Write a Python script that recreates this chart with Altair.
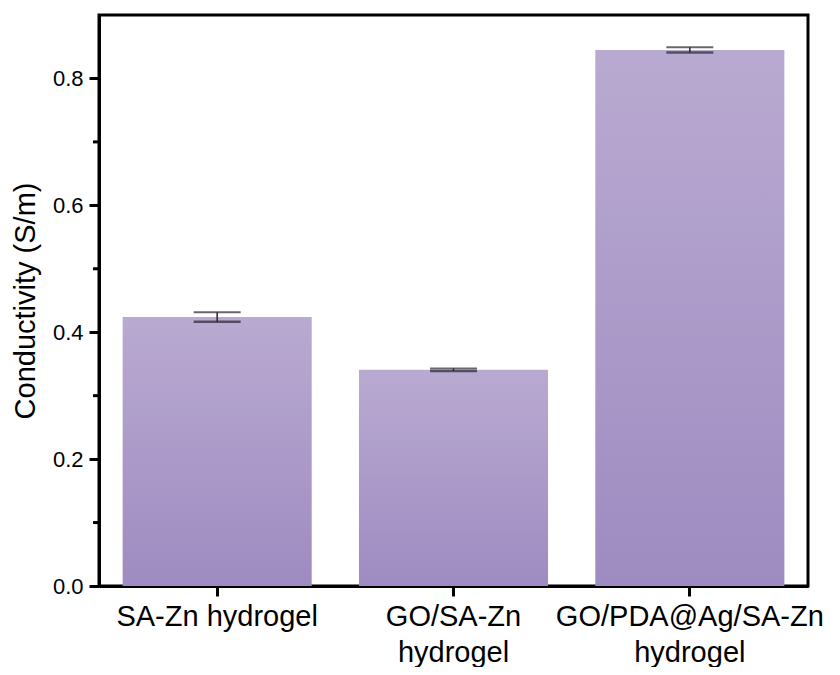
import altair as alt
import pandas as pd

categories = ["SA-Zn hydrogel", "GO/SA-Zn\nhydrogel", "GO/PDA@Ag/SA-Zn\nhydrogel"]
conductivity = [0.424, 0.341, 0.845]
errors = [0.0075, 0.002, 0.004]
y_major = [0.0, 0.2, 0.4, 0.6, 0.8]
y_minor = [0.1, 0.3, 0.5, 0.7]

df = pd.DataFrame({
    "cat": categories,
    "val": conductivity,
    "lo": [v - e for v, e in zip(conductivity, errors)],
    "hi": [v + e for v, e in zip(conductivity, errors)],
})
minor_df = pd.DataFrame({"m": y_minor})

FONT = "Liberation Sans"

x_enc = alt.X(
    "cat:N", sort=categories, title=None,
    scale=alt.Scale(paddingInner=0.2, paddingOuter=0.1),
    axis=alt.Axis(
        labelExpr="split(datum.value, '\\n')", labelAngle=0, labelLimit=0,
        labelFont=FONT, labelFontSize=29, labelColor="black",
        labelLineHeight=36, labelPadding=6,
        tickSize=10, tickWidth=3, tickColor="black",
        domainColor="black", domainWidth=3,
    ),
)
y_scale = alt.Scale(domain=[0, 0.9], nice=False, zero=True)

bars = alt.Chart(df).mark_bar(
    color=alt.Gradient(
        gradient="linear",
        stops=[alt.GradientStop(color="#b9aad1", offset=0),
               alt.GradientStop(color="#9e8bc1", offset=1)],
        x1=0, x2=0, y1=0, y2=1,
    )
).encode(
    x=x_enc,
    y=alt.Y(
        "val:Q", scale=y_scale, title="Conductivity (S/m)",
        axis=alt.Axis(
            values=y_major, format=".1f", grid=False,
            labelFont=FONT, labelFontSize=22, labelColor="black", labelPadding=6,
            tickSize=10, tickWidth=3, tickColor="black",
            domainColor="black", domainWidth=3,
            titleFont=FONT, titleFontSize=29, titleFontWeight="normal",
            titleColor="black", titlePadding=12,
        ),
    ),
)

err_rule = alt.Chart(df).mark_rule(color="#2b2733", strokeWidth=1.5).encode(
    x=alt.X("cat:N", sort=categories), y=alt.Y("lo:Q", scale=y_scale), y2="hi:Q"
)
cap_lo = alt.Chart(df).mark_tick(color="#2b2733", size=47, thickness=2.5).encode(
    x=alt.X("cat:N", sort=categories), y=alt.Y("lo:Q", scale=y_scale)
)
cap_hi = alt.Chart(df).mark_tick(color="#2b2733", size=47, thickness=2).encode(
    x=alt.X("cat:N", sort=categories), y=alt.Y("hi:Q", scale=y_scale)
)
minor = alt.Chart(minor_df).mark_rule(color="black", strokeWidth=3).encode(
    y=alt.Y("m:Q", scale=y_scale), x=alt.value(-6), x2=alt.value(0)
)

chart = alt.layer(bars, err_rule, cap_lo, cap_hi, minor).properties(
    width=709, height=571,
    autosize=alt.AutoSizeParams(type="none"),
    padding={"left": 91, "top": 7, "right": 24, "bottom": 81},
).configure(
    background="white",
    view=alt.ViewConfig(stroke="black", strokeWidth=3),
)

chart.save("out.html", embed_options={"renderer": "svg", "actions": False})
